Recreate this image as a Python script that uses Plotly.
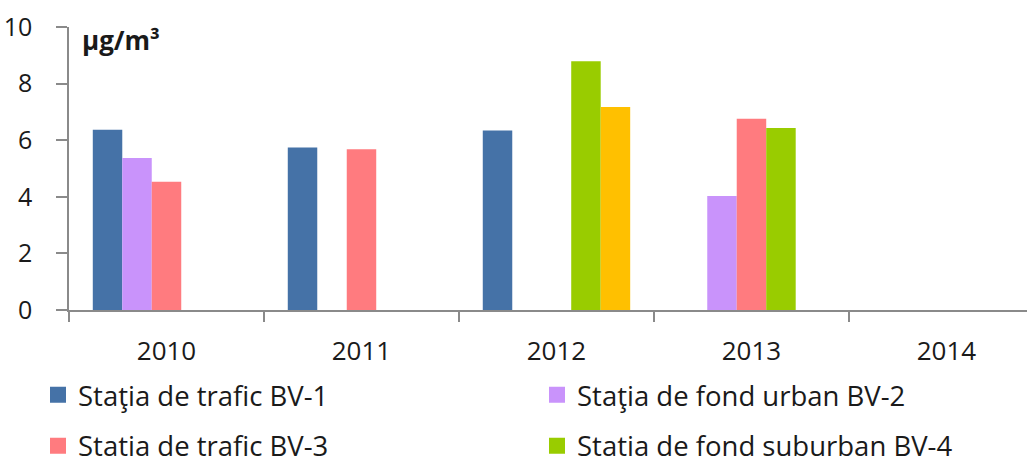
import plotly.graph_objects as go

# Annual mean concentrations (µg/m³) per monitoring station
years = ["2010", "2011", "2012", "2013", "2014"]
bv1 = [6.37, 5.74, 6.34, None, None]
bv2 = [5.37, None, None, 4.03, None]
bv3 = [4.53, 5.68, None, 6.76, None]
bv4 = [None, None, 8.79, 6.43, None]
bv5 = [None, None, 7.17, None, None]

names = [
    "Staţia de trafic BV-1",
    "Staţia de fond urban BV-2",
    "Statia de trafic BV-3",
    "Statia de fond suburban BV-4",
    "Statia BV-5",
]
colors = ["#4572A7", "#C993FB", "#FF7B7F", "#99CC00", "#FFC000"]

font_family = "'Open Sans', sans-serif"
text_color = "#1a1a1a"
axis_color = "#8A8A8A"

fig = go.Figure()

# Bars: five series per year, grouped
for name, vals, col in zip(names, [bv1, bv2, bv3, bv4, bv5], colors):
    fig.add_trace(go.Bar(
        x=years, y=vals, name=name,
        marker=dict(color=col, line=dict(width=0)),
        showlegend=False,
    ))

# Legend swatches (larger square keys), one legend box per entry
legend_ids = ["legend", "legend2", "legend3", "legend4"]
for name, col, lg in zip(names[:4], colors[:4], legend_ids):
    fig.add_trace(go.Scatter(
        x=[None], y=[None], mode="markers", name=name,
        marker=dict(symbol="square", size=18, color=col),
        legend=lg, showlegend=True, hoverinfo="skip",
    ))

# Plot area spans 69..1027 px horizontally, 27..310 px vertically
def px_x(px):
    return (px - 69) / 958

def px_y(py):
    return (310 - py) / 283.3

legend_font = dict(family=font_family, size=27.5, color=text_color)

def legend_box(left_px, mid_py):
    return dict(
        orientation="v",
        xanchor="left", yanchor="middle",
        x=px_x(left_px), y=px_y(mid_py),
        font=legend_font,
        bgcolor="rgba(0,0,0,0)", borderwidth=0,
        itemsizing="trace",
    )

fig.update_layout(
    width=1027, height=459,
    margin=dict(l=69, r=0, t=27, b=149, autoexpand=False),
    paper_bgcolor="white", plot_bgcolor="white",
    barmode="group", bargap=0.244, bargroupgap=0,
    font=dict(family=font_family, color=text_color),
    legend=legend_box(38, 395),
    legend2=legend_box(537, 395),
    legend3=legend_box(38, 446),
    legend4=legend_box(537, 446),
    xaxis=dict(
        type="category",
        range=[-0.5, 4.413],
        showline=True, linecolor=axis_color, linewidth=1.5,
        ticks="outside", tickson="boundaries", ticklen=10,
        tickcolor=axis_color, tickwidth=1.5,
        tickfont=dict(size=26, family=font_family, color=text_color),
        ticklabelstandoff=17,
        showgrid=False, zeroline=False,
    ),
    yaxis=dict(
        range=[0, 10], dtick=2,
        showline=True, linecolor=axis_color, linewidth=1.5,
        ticks="outside", ticklen=11, tickcolor=axis_color, tickwidth=1.5,
        tickfont=dict(size=25, family=font_family, color=text_color),
        ticklabelstandoff=19,
        showgrid=False, zeroline=False,
    ),
    annotations=[dict(
        text="<b>µg/m³</b>", xref="paper", yref="paper",
        x=px_x(80), y=px_y(40), xanchor="left", yanchor="middle",
        showarrow=False, font=dict(family=font_family, size=26, color=text_color),
    )],
)

fig.write_html("out.html")
